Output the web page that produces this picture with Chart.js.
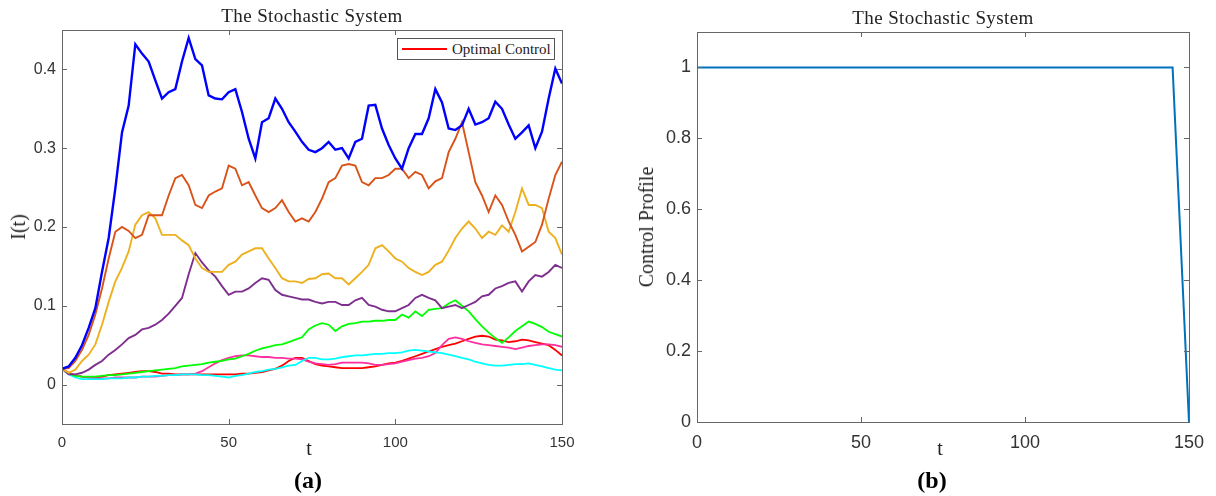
<!DOCTYPE html>
<html>
<head>
<meta charset="utf-8">
<script src="https://cdn.jsdelivr.net/npm/chart.js@4.4.0/dist/chart.umd.min.js"></script>
<style>
  body { margin: 0; background: #fff; width: 1216px; height: 496px; position: relative; overflow: hidden; }
  canvas { position: absolute; top: 0; }
  .lbl { position: absolute; font-family: "Liberation Serif", "Times New Roman", serif; color: #222;
         white-space: nowrap; line-height: 1; transform: translate(-50%, -50%); }
  .title { font-size: 19px; letter-spacing: 0.4px; }
  .rot { transform: translate(-50%, -50%) rotate(-90deg); }
  .cap { font-weight: bold; font-size: 24px; color: #000; }
  #legend { position: absolute; left: 397px; top: 38px; width: 156px; height: 20px;
            border: 1px solid #555; background: #fff; }
  #legend .swatch { position: absolute; left: 4px; top: 9px; width: 45px; height: 2px; background: #ff0000; }
  #legend .name { position: absolute; left: 54px; top: 2px; font-family: "Liberation Serif", serif;
                  font-size: 15px; color: #222; white-space: nowrap; }
</style>
</head>
<body>
<canvas id="leftChart" width="600" height="496" style="left:0"></canvas>
<canvas id="rightChart" width="616" height="496" style="left:600px"></canvas>

<div class="lbl title" style="left:312px; top:15px">The Stochastic System</div>
<div class="lbl title" style="left:943px; top:17px">The Stochastic System</div>
<div class="lbl rot" style="left:18px; top:227px; font-size:20px">I(t)</div>
<div class="lbl rot" style="left:646px; top:227px; font-size:20px">Control Profile</div>
<div class="lbl" style="left:309px; top:448px; font-size:20px">t</div>
<div class="lbl" style="left:940px; top:448px; font-size:20px">t</div>
<div class="lbl cap" style="left:308px; top:480px">(a)</div>
<div class="lbl cap" style="left:932px; top:480px">(b)</div>
<div id="legend"><div class="swatch"></div><div class="name">Optimal Control</div></div>

<script>
// time grid for the stochastic paths
const tGrid = [0,2,4,6,8,10,12,14,16,18,20,22,24,26,28,30,32,34,36,38,
               40,42,44,46,48,50,52,54,56,58,60,62,64,66,68,70,72,74,76,78,
               80,82,84,86,88,90,92,94,96,98,100,102,104,106,108,110,112,114,116,118,
               120,122,124,126,128,130,132,134,136,138,140,142,144,146,148,150];

const blueI = [0.020,0.023,0.034,0.050,0.072,0.097,0.143,0.186,0.249,0.320,
               0.354,0.432,0.420,0.410,0.386,0.363,0.371,0.375,0.410,0.440,
               0.413,0.405,0.367,0.363,0.362,0.371,0.375,0.346,0.312,0.287,
               0.333,0.338,0.363,0.350,0.333,0.321,0.308,0.298,0.295,0.300,
               0.308,0.298,0.300,0.287,0.308,0.312,0.354,0.355,0.325,0.304,
               0.287,0.274,0.300,0.318,0.318,0.338,0.375,0.358,0.325,0.323,
               0.329,0.350,0.330,0.333,0.338,0.359,0.350,0.330,0.312,0.320,
               0.329,0.300,0.321,0.363,0.401,0.382];
const orangeI = [0.020,0.021,0.030,0.044,0.063,0.089,0.122,0.160,0.194,0.200,
                 0.195,0.186,0.190,0.215,0.215,0.215,0.240,0.262,0.266,0.253,
                 0.228,0.224,0.240,0.245,0.249,0.278,0.274,0.253,0.257,0.240,
                 0.224,0.219,0.224,0.234,0.219,0.207,0.211,0.207,0.219,0.236,
                 0.257,0.262,0.278,0.280,0.278,0.257,0.253,0.262,0.262,0.266,
                 0.274,0.274,0.262,0.270,0.266,0.249,0.258,0.262,0.295,0.312,
                 0.333,0.295,0.257,0.240,0.219,0.240,0.228,0.207,0.190,0.169,
                 0.175,0.181,0.203,0.236,0.266,0.283];
const yellowI = [0.020,0.015,0.019,0.030,0.038,0.051,0.076,0.105,0.131,0.148,
                 0.169,0.203,0.215,0.219,0.211,0.190,0.190,0.190,0.183,0.177,
                 0.160,0.148,0.143,0.143,0.143,0.152,0.156,0.165,0.169,0.173,
                 0.173,0.160,0.148,0.135,0.131,0.131,0.129,0.134,0.135,0.140,
                 0.141,0.135,0.135,0.127,0.135,0.143,0.152,0.173,0.177,0.169,
                 0.160,0.156,0.148,0.143,0.139,0.143,0.152,0.156,0.170,0.186,
                 0.198,0.207,0.198,0.186,0.194,0.190,0.202,0.194,0.219,0.249,
                 0.228,0.228,0.224,0.194,0.186,0.165];
const purpleI = [0.020,0.013,0.013,0.015,0.019,0.025,0.030,0.038,0.044,0.051,
                 0.059,0.063,0.070,0.072,0.076,0.082,0.090,0.100,0.110,0.140,
                 0.167,0.155,0.145,0.137,0.125,0.114,0.118,0.118,0.122,0.129,
                 0.135,0.133,0.120,0.114,0.112,0.110,0.108,0.108,0.105,0.103,
                 0.105,0.105,0.101,0.101,0.107,0.110,0.101,0.099,0.095,0.093,
                 0.093,0.097,0.101,0.110,0.114,0.110,0.107,0.097,0.099,0.101,
                 0.097,0.101,0.105,0.112,0.114,0.122,0.125,0.129,0.131,0.118,
                 0.131,0.139,0.137,0.143,0.152,0.148];
const greenI = [0.020,0.014,0.011,0.010,0.010,0.010,0.011,0.012,0.012,0.013,
                0.014,0.015,0.016,0.017,0.018,0.019,0.020,0.021,0.023,0.024,
                0.025,0.026,0.028,0.029,0.030,0.032,0.033,0.036,0.039,0.043,
                0.046,0.048,0.050,0.051,0.054,0.057,0.060,0.070,0.075,0.078,
                0.076,0.068,0.074,0.077,0.078,0.080,0.080,0.081,0.081,0.082,
                0.082,0.089,0.085,0.093,0.087,0.095,0.096,0.097,0.103,0.107,
                0.100,0.093,0.083,0.074,0.066,0.059,0.053,0.060,0.068,0.074,
                0.080,0.077,0.073,0.067,0.064,0.061];
const pinkI = [0.020,0.014,0.012,0.010,0.009,0.008,0.008,0.008,0.009,0.009,
               0.009,0.009,0.010,0.010,0.010,0.011,0.012,0.012,0.013,0.013,
               0.014,0.017,0.022,0.027,0.031,0.034,0.036,0.037,0.037,0.036,
               0.035,0.035,0.034,0.034,0.033,0.033,0.032,0.029,0.027,0.026,
               0.025,0.026,0.028,0.028,0.028,0.028,0.027,0.025,0.025,0.026,
               0.027,0.029,0.031,0.033,0.034,0.036,0.040,0.050,0.058,0.060,
               0.058,0.055,0.053,0.051,0.050,0.049,0.048,0.047,0.045,0.047,
               0.049,0.050,0.051,0.051,0.050,0.048];
const redI = [0.020,0.015,0.012,0.010,0.009,0.009,0.010,0.012,0.013,0.014,
              0.015,0.016,0.017,0.017,0.016,0.014,0.014,0.013,0.013,0.013,
              0.013,0.013,0.013,0.013,0.013,0.013,0.013,0.014,0.014,0.015,
              0.016,0.018,0.020,0.024,0.030,0.034,0.034,0.030,0.026,0.024,
              0.023,0.022,0.021,0.021,0.021,0.021,0.022,0.023,0.025,0.027,
              0.028,0.030,0.033,0.036,0.039,0.042,0.045,0.048,0.050,0.052,
              0.055,0.058,0.061,0.062,0.061,0.057,0.056,0.054,0.055,0.057,
              0.056,0.054,0.052,0.050,0.044,0.037];
const cyanI = [0.020,0.013,0.009,0.007,0.007,0.007,0.007,0.008,0.008,0.008,
               0.009,0.009,0.010,0.010,0.011,0.011,0.012,0.012,0.013,0.013,
               0.013,0.012,0.012,0.011,0.010,0.009,0.011,0.012,0.014,0.016,
               0.017,0.019,0.020,0.022,0.024,0.025,0.030,0.034,0.034,0.032,
               0.032,0.033,0.035,0.036,0.037,0.037,0.038,0.039,0.039,0.040,
               0.040,0.041,0.043,0.044,0.043,0.042,0.041,0.040,0.038,0.036,
               0.034,0.032,0.029,0.027,0.025,0.024,0.024,0.025,0.026,0.026,
               0.027,0.025,0.023,0.021,0.019,0.018];

// control profile
const controlT = [0,5,10,15,20,25,30,35,40,45,50,55,60,65,70,75,
                  80,85,90,95,100,105,110,115,120,125,130,135,140,145,150];
const controlU = [1,1,1,1,1,1,1,1,1,1,1,1,1,1,1,1,
                  1,1,1,1,1,1,1,1,1,1,1,1,1,1,0];

// tick labels
const tTicks = [0, 50, 100, 150];
const leftYTicks = [0, 0.1, 0.2, 0.3, 0.4];
const rightYTicks = [0, 0.2, 0.4, 0.6, 0.8, 1];

// MATLAB style box with inward ticks on all four sides
const boxPlugin = {
    id: 'matlabBox',
    afterDraw(chart) {
        const ctx = chart.ctx;
        const a = chart.chartArea;
        const len = 5;
        ctx.save();
        ctx.strokeStyle = '#666';
        ctx.lineWidth = 1;
        ctx.strokeRect(Math.round(a.left) + 0.5, Math.round(a.top) + 0.5,
                       Math.round(a.right - a.left), Math.round(a.bottom - a.top));
        ctx.beginPath();
        chart.scales.x.ticks.forEach(t => {
            const px = Math.round(chart.scales.x.getPixelForValue(t.value)) + 0.5;
            ctx.moveTo(px, a.bottom); ctx.lineTo(px, a.bottom - len);
            ctx.moveTo(px, a.top); ctx.lineTo(px, a.top + len);
        });
        chart.scales.y.ticks.forEach(t => {
            const py = Math.round(chart.scales.y.getPixelForValue(t.value)) + 0.5;
            ctx.moveTo(a.left, py); ctx.lineTo(a.left + len, py);
            ctx.moveTo(a.right, py); ctx.lineTo(a.right - len, py);
        });
        ctx.stroke();
        ctx.restore();
    }
};

function pathSet(label, data, color, width) {
    return { label: label, data: data, borderColor: color, backgroundColor: color,
             borderWidth: width, pointRadius: 0, tension: 0, fill: false };
}

function axisOpts(min, max, tickList, fontSize, fixSize, isX) {
    return {
        type: 'linear', min: min, max: max,
        grid: { display: false, drawTicks: false },
        border: { display: false },
        afterBuildTicks: s => { s.ticks = tickList.map(v => ({ value: v })); },
        afterFit: s => { if (isX) s.height = fixSize; else s.width = fixSize; },
        ticks: {
            color: '#333', padding: isX ? 10 : 6, maxRotation: 0, autoSkip: false,
            callback: v => String(v),
            font: { family: '"Liberation Sans", Arial, sans-serif', size: fontSize }
        }
    };
}

Chart.defaults.animation = false;

new Chart(document.getElementById('leftChart'), {
    type: 'line',
    data: {
        labels: tGrid,
        datasets: [
            pathSet('Path 1', blueI, '#0000ff', 2.4),
            pathSet('Path 2', orangeI, '#d95319', 1.9),
            pathSet('Path 3', yellowI, '#edb120', 1.9),
            pathSet('Path 4', purpleI, '#7e2f8e', 1.9),
            pathSet('Path 5', greenI, '#00ff00', 1.8),
            pathSet('Path 6', cyanI, '#00ffff', 1.8),
            pathSet('Path 7', pinkI, '#ff2fa0', 1.8),
            pathSet('Optimal Control', redI, '#ff0000', 1.8)
        ]
    },
    options: {
        responsive: false,
        devicePixelRatio: 1,
        layout: { padding: { left: 0, top: 30, right: 38, bottom: 42 } },
        plugins: { legend: { display: false }, title: { display: false }, tooltip: { enabled: false } },
        scales: {
            x: axisOpts(0, 150, tTicks, 15, 30, true),
            y: axisOpts(-0.05, 0.45, leftYTicks, 16, 62, false)
        }
    },
    plugins: [boxPlugin]
});

new Chart(document.getElementById('rightChart'), {
    type: 'line',
    data: {
        labels: controlT,
        datasets: [pathSet('Control', controlU, '#0072bd', 2)]
    },
    options: {
        responsive: false,
        devicePixelRatio: 1,
        layout: { padding: { left: 0, top: 32, right: 27, bottom: 44 } },
        plugins: { legend: { display: false }, title: { display: false }, tooltip: { enabled: false } },
        scales: {
            x: axisOpts(0, 150, tTicks, 18, 30, true),
            y: axisOpts(0, 1.1, rightYTicks, 18, 97, false)
        }
    },
    plugins: [boxPlugin]
});
</script>
</body>
</html>
